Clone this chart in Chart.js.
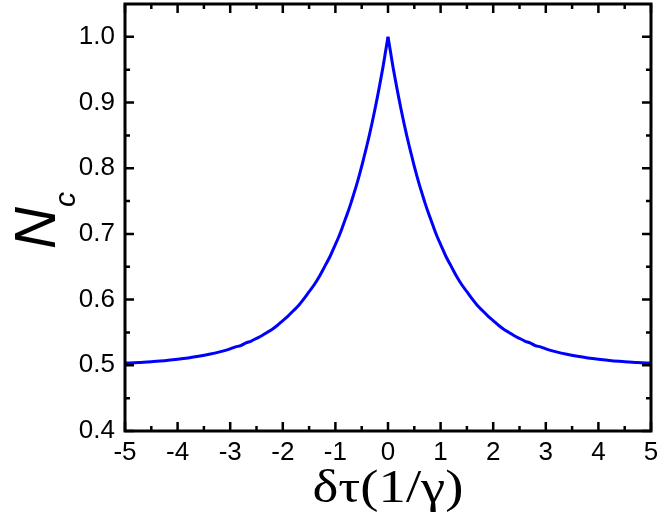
<!DOCTYPE html>
<html>
<head>
<meta charset="utf-8">
<script src="https://cdn.jsdelivr.net/npm/chart.js@4"></script>
<style>
  html, body { margin: 0; padding: 0; background: #fff; }
  canvas { display: block; }
</style>
</head>
<body>
<canvas id="c" width="664" height="531"></canvas>
<script>
// Data: right half of a symmetric peak (x >= 0)
const halfX = [0, 0.05, 0.1, 0.15, 0.2, 0.25, 0.3, 0.35, 0.4, 0.45, 0.5, 0.55, 0.6, 0.65, 0.7, 0.75, 0.8, 0.85, 0.9, 0.95, 1.0,
               1.1, 1.2, 1.3, 1.4, 1.5, 1.6, 1.7, 1.8, 1.9, 2.0, 2.1, 2.2, 2.3, 2.4, 2.5, 2.6, 2.7, 2.8, 2.9, 3.0,
               3.2, 3.4, 3.6, 3.8, 4.0, 4.25, 4.5, 4.75, 5.0];
const halfY = [1.000, 0.976, 0.952, 0.930, 0.909, 0.889, 0.870, 0.852, 0.835, 0.819, 0.803, 0.788, 0.774, 0.761, 0.748, 0.736, 0.725, 0.714, 0.703, 0.693, 0.684,
               0.666, 0.651, 0.636, 0.623, 0.612, 0.601, 0.591, 0.583, 0.575, 0.568, 0.561, 0.555, 0.550, 0.545, 0.541, 0.537, 0.534, 0.530, 0.528, 0.525,
               0.5204, 0.5167, 0.5137, 0.5112, 0.5092, 0.5071, 0.5056, 0.5043, 0.5034];
const xTickValues = [-5, -4, -3, -2, -1, 0, 1, 2, 3, 4, 5];
const yTickValues = [0.4, 0.5, 0.6, 0.7, 0.8, 0.9, 1.0];
const xTitle = 'δτ(1/γ)';
const yTitleMain = 'N';
const yTitleSub = 'c';

// Left and right halves of the curve (kept separate so the cusp stays sharp)
const leftPts = [], rightPts = [];
for (let i = halfX.length - 1; i >= 0; i--) leftPts.push({ x: -halfX[i], y: halfY[i] });
for (let i = 0; i < halfX.length; i++) rightPts.push({ x: halfX[i], y: halfY[i] });

const framePlugin = {
  id: 'frame',
  afterDraw(chart) {
    const ctx = chart.ctx;
    const a = chart.chartArea;
    const xs = chart.scales.x, ys = chart.scales.y;
    ctx.save();
    ctx.strokeStyle = '#000';
    ctx.lineWidth = 2.5;
    ctx.lineCap = 'butt';
    const xMinor = [], yMinor = [];
    for (let v = -4.5; v < 5; v += 1) xMinor.push(v);
    for (let v = 0.45; v < 1.05; v += 0.1) yMinor.push(v);
    ctx.beginPath();
    xTickValues.forEach(v => {
      const p = xs.getPixelForValue(v);
      ctx.moveTo(p, a.bottom); ctx.lineTo(p, a.bottom - 9);
      ctx.moveTo(p, a.top); ctx.lineTo(p, a.top + 9);
    });
    xMinor.forEach(v => {
      const p = xs.getPixelForValue(v);
      ctx.moveTo(p, a.bottom); ctx.lineTo(p, a.bottom - 5);
      ctx.moveTo(p, a.top); ctx.lineTo(p, a.top + 5);
    });
    yTickValues.forEach(v => {
      const p = ys.getPixelForValue(v);
      ctx.moveTo(a.left, p); ctx.lineTo(a.left + 9, p);
      ctx.moveTo(a.right, p); ctx.lineTo(a.right - 9, p);
    });
    yMinor.forEach(v => {
      const p = ys.getPixelForValue(v);
      ctx.moveTo(a.left, p); ctx.lineTo(a.left + 5, p);
      ctx.moveTo(a.right, p); ctx.lineTo(a.right - 5, p);
    });
    ctx.stroke();
    ctx.lineWidth = 3;
    ctx.strokeRect(a.left, a.top, a.right - a.left, a.bottom - a.top);

    // x title (stretched horizontally to the reference width)
    ctx.fillStyle = '#000';
    ctx.font = '46px "Liberation Serif", "Times New Roman", serif';
    ctx.textAlign = 'left';
    ctx.textBaseline = 'alphabetic';
    const w = ctx.measureText(xTitle).width;
    const targetW = 151;
    const cx = (a.left + a.right) / 2;
    ctx.save();
    ctx.translate(cx - targetW / 2, 502);
    ctx.scale(targetW / w, 1);
    ctx.fillText(xTitle, 0, 0);
    ctx.restore();

    // y title with subscript
    ctx.font = 'italic 58px "Liberation Sans", Arial, sans-serif';
    const wN = ctx.measureText(yTitleMain).width;
    ctx.translate(55, 249);
    ctx.rotate(-Math.PI / 2);
    ctx.fillText(yTitleMain, 0, 0);
    ctx.font = 'italic 30px "Liberation Sans", Arial, sans-serif';
    ctx.fillText(yTitleSub, wN, 20);
    ctx.restore();
  }
};

const lineStyle = {
  borderColor: '#0000ff',
  borderWidth: 3,
  pointRadius: 0,
  cubicInterpolationMode: 'monotone',
  fill: false
};

new Chart(document.getElementById('c'), {
  type: 'line',
  data: {
    datasets: [
      Object.assign({ data: leftPts }, lineStyle),
      Object.assign({ data: rightPts }, lineStyle)
    ]
  },
  options: {
    responsive: false,
    devicePixelRatio: 1,
    animation: false,
    events: [],
    layout: { padding: { top: 4, right: 13, left: 0, bottom: 0 } },
    plugins: { legend: { display: false }, tooltip: { enabled: false } },
    scales: {
      x: {
        type: 'linear',
        min: -5, max: 5,
        grid: { display: false, drawTicks: false },
        border: { display: false },
        afterBuildTicks: s => { s.ticks = xTickValues.map(v => ({ value: v })); },
        afterFit: s => { s.height = 100; s.paddingLeft = 0; s.paddingRight = 0; },
        ticks: {
          color: '#000',
          padding: 6,
          maxRotation: 0,
          font: { family: '"Liberation Sans", Arial, sans-serif', size: 26 },
          callback: v => String(v)
        }
      },
      y: {
        type: 'linear',
        min: 0.4, max: 1.05,
        grid: { display: false, drawTicks: false },
        border: { display: false },
        afterBuildTicks: s => { s.ticks = yTickValues.map(v => ({ value: v })); },
        afterFit: s => { s.width = 125; s.paddingTop = 0; s.paddingBottom = 0; },
        ticks: {
          color: '#000',
          padding: 10,
          font: { family: '"Liberation Sans", Arial, sans-serif', size: 26 },
          callback: v => Number(v).toFixed(1)
        }
      }
    }
  },
  plugins: [framePlugin]
});
</script>
</body>
</html>
